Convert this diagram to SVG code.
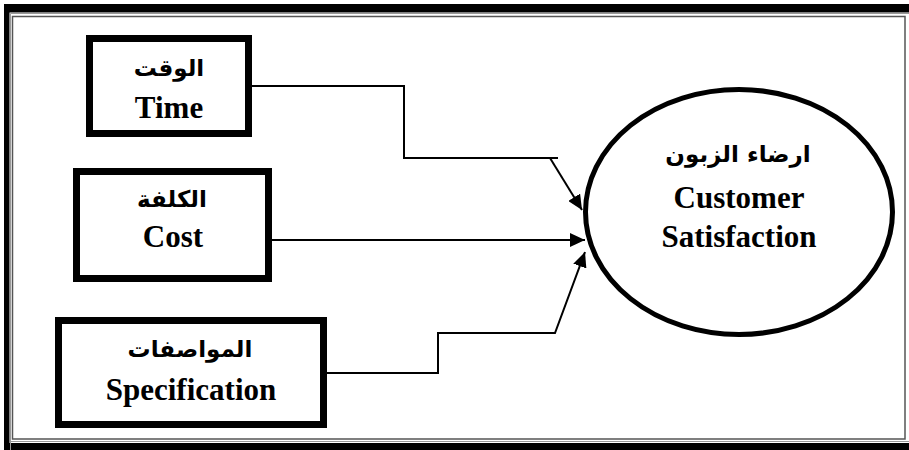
<svg xmlns="http://www.w3.org/2000/svg" width="909" height="450" viewBox="0 0 909 450">
<style>
.box{fill:#fff;stroke:#000;stroke-width:7}
.en{font-family:"Liberation Serif","Times New Roman",serif;font-weight:bold;font-size:31px;text-anchor:middle;fill:#000}
.ar{font-family:"DejaVu Sans","Noto Sans",sans-serif;font-weight:bold;font-size:23px;text-anchor:middle;fill:#000}
.conn{fill:none;stroke:#000;stroke-width:2}
</style>
<defs>
<marker id="arr" markerUnits="userSpaceOnUse" markerWidth="16" markerHeight="14" refX="15" refY="7" orient="auto">
<path d="M0,0 L15,7 L0,14 z" fill="#000"/>
</marker>
</defs>
<rect x="0" y="0" width="909" height="450" fill="#fff"/>
<g id="frame">
<rect x="4" y="4" width="960" height="500" fill="#000"/>
<rect x="9.5" y="12.5" width="950" height="430.5" fill="#fff"/>
<path d="M10.5,1000 V13.5 H1000" fill="none" stroke="#999" stroke-width="1"/>
<path d="M10.5,441.5 H1000" fill="none" stroke="#999" stroke-width="1"/>
<rect x="12.5" y="16.5" width="892.5" height="422.5" fill="none" stroke="#555" stroke-width="1.5"/>
</g>
<g id="connectors">
<path class="conn" d="M252,86 H404 V158 H558"/>
<path class="conn" d="M550,158 L582,210" marker-end="url(#arr)"/>
<path class="conn" d="M272,240 H585" marker-end="url(#arr)"/>
<path class="conn" d="M327,373 H438 V333 H555 L585,252" marker-end="url(#arr)"/>
</g>
<g id="time">
<rect class="box" x="89.5" y="38.5" width="159" height="95"/>
<text class="ar" x="169" y="76" direction="rtl">الوقت</text>
<text class="en" x="169" y="118">Time</text>
</g>
<g id="cost">
<rect class="box" x="76.5" y="171.5" width="192" height="107"/>
<text class="ar" x="172" y="207" direction="rtl">الكلفة</text>
<text class="en" x="173" y="247">Cost</text>
</g>
<g id="specification">
<rect class="box" x="58.5" y="320.5" width="265" height="104"/>
<text class="ar" x="190" y="357" direction="rtl">المواصفات</text>
<text class="en" x="191" y="400">Specification</text>
</g>
<g id="customer-satisfaction">
<ellipse cx="739" cy="212" rx="153.5" ry="122.5" fill="#fff" stroke="#000" stroke-width="5"/>
<text class="ar" x="738" y="162" direction="rtl">ارضاء الزبون</text>
<text class="en" x="739" y="208">Customer</text>
<text class="en" x="739" y="247">Satisfaction</text>
</g>
</svg>
